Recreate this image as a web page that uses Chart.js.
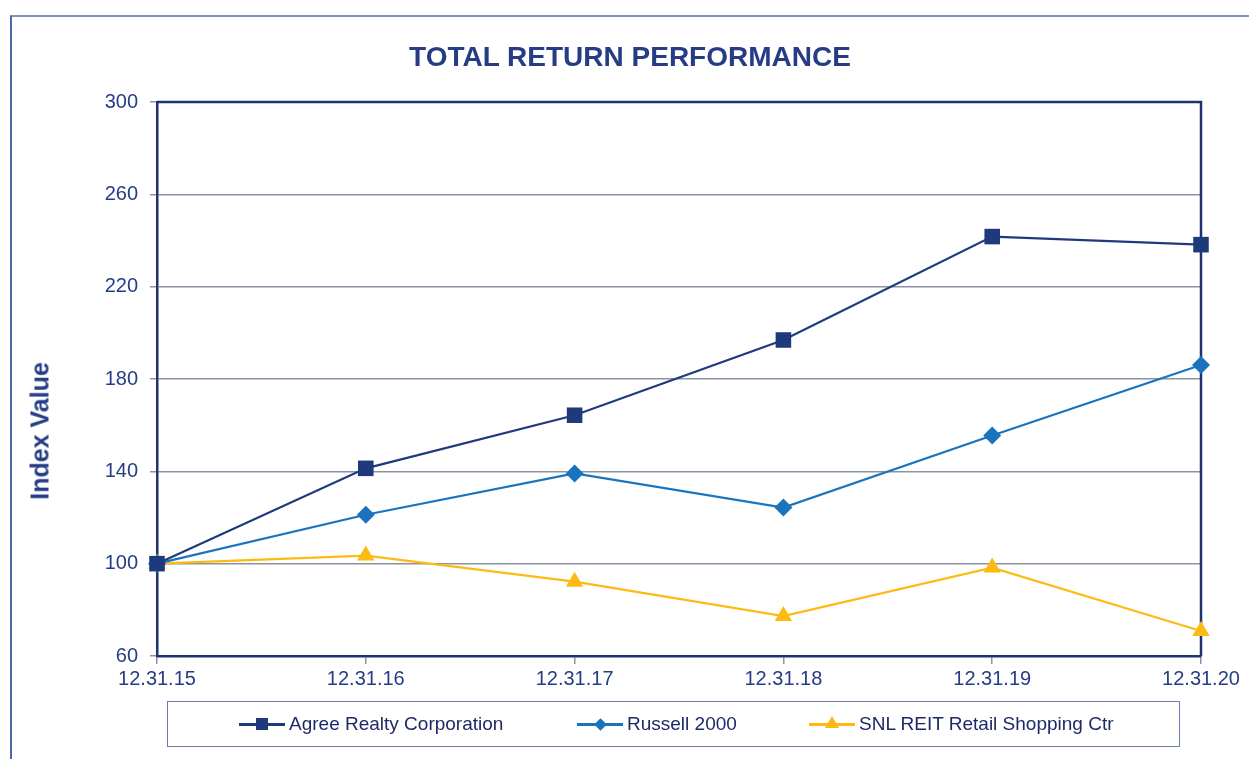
<!DOCTYPE html>
<html>
<head>
<meta charset="utf-8">
<script src="https://cdn.jsdelivr.net/npm/chart.js@4.4.1/dist/chart.umd.min.js"></script>
<style>
  body { margin: 0; background: #fff; font-family: "Liberation Sans", Arial, sans-serif; }
  #wrap { position: relative; width: 1249px; height: 759px; overflow: hidden; }
  #frame { position: absolute; left: 10px; top: 15px; width: 1400px; height: 900px;
           border-left: 2px solid #4d66a6; border-top: 2px solid #7f92c2; }
  #title { position: absolute; left: 0; top: 41px; width: 1260px; text-align: center;
           font-weight: bold; font-size: 28px; color: #263d86; }
  #ytitle { position: absolute; left: 40px; top: 431px; transform: translate(-50%, -50%) rotate(-90deg);
            font-weight: bold; font-size: 25px; color: #263d86; white-space: nowrap; }
  #legend { position: absolute; left: 167px; top: 701px; width: 1011px; height: 44px;
            border: 1px solid #6b7cb0; }
  .item { position: absolute; top: 12px; height: 20px; font-size: 19px; color: #1e2a66; }
  .item .ln { position: absolute; left: 0; top: 9px; width: 46px; height: 3px; }
  .item .mk { position: absolute; }
  .item .tx { position: absolute; left: 50px; top: -1px; white-space: nowrap; }
  canvas { position: absolute; left: 0; top: 0; }
</style>
</head>
<body>
<div id="wrap">
  <div id="frame"></div>
  <canvas id="chart" width="1249" height="759"></canvas>
  <div id="title">TOTAL RETURN PERFORMANCE</div>
  <div id="ytitle">Index Value</div>
  <div id="legend"></div>
</div>
<script>
// ===== DATA =====
const periods = ["12.31.15", "12.31.16", "12.31.17", "12.31.18", "12.31.19", "12.31.20"];
const agreeRealty = [100, 141.3, 164.3, 196.9, 241.7, 238.2];
const russell2000 = [100, 121.2, 139.1, 124.3, 155.5, 186.1];
const snlRetail = [100, 103.5, 92.2, 77.3, 98.3, 70.8];

const navy = "#1f3a7c";
const blue = "#1a74bd";
const gold = "#fdbb12";
const textColor = "#263d86";
const gridGray = "#8c90a3";

const series = [
    { label: "Agree Realty Corporation", data: agreeRealty, color: navy, style: "rect", radius: 11 },
    { label: "Russell 2000", data: russell2000, color: blue, style: "rectRot", radius: 9 },
    { label: "SNL REIT Retail Shopping Ctr", data: snlRetail, color: gold, style: "triangle", radius: 10 }
];

// ===== plot frame (top + right sides) =====
const framePlugin = {
    id: "frame",
    beforeDatasetsDraw(chart) {
        const a = chart.chartArea;
        const ctx = chart.ctx;
        ctx.save();
        ctx.strokeStyle = "#1f3272";
        ctx.lineWidth = 2.5;
        ctx.beginPath();
        ctx.moveTo(a.left, a.top);
        ctx.lineTo(a.right, a.top);
        ctx.lineTo(a.right, a.bottom);
        ctx.stroke();
        ctx.restore();
    }
};

const chart = new Chart(document.getElementById("chart"), {
    type: "line",
    data: {
        labels: periods,
        datasets: series.map(s => ({
            label: s.label,
            data: s.data,
            borderColor: s.color,
            backgroundColor: s.color,
            borderWidth: 2.2,
            pointStyle: s.style,
            pointRadius: s.radius,
            pointBorderWidth: 0,
            pointBackgroundColor: s.color,
            tension: 0,
            clip: false
        }))
    },
    options: {
        responsive: false,
        animation: false,
        layout: { padding: { top: 102, right: 48, bottom: 63, left: 0 } },
        plugins: {
            legend: { display: false },
            title: { display: false },
            tooltip: { enabled: false }
        },
        scales: {
            x: {
                offset: false,
                afterFit(scale) { scale.height = 40; },
                grid: { drawOnChartArea: false, drawTicks: true, tickLength: 8, tickColor: gridGray, lineWidth: 1.5 },
                border: { color: "#1f3272", width: 2.5 },
                ticks: { color: textColor, font: { family: "Liberation Sans", size: 20 }, padding: 3, maxRotation: 0 }
            },
            y: {
                min: 60,
                max: 300,
                afterFit(scale) { scale.width = 157; },
                grid: {
                    color: c => (c.tick && (c.tick.value === 60 || c.tick.value === 300)) ? "rgba(0,0,0,0)" : gridGray,
                    lineWidth: 1.5,
                    drawTicks: true,
                    tickLength: 7,
                    tickColor: gridGray
                },
                border: { color: "#1f3272", width: 2.5 },
                ticks: { stepSize: 40, color: textColor, font: { family: "Liberation Sans", size: 20 }, padding: 12 }
            }
        }
    },
    plugins: [framePlugin]
});

// ===== Legend =====
const legendPos = [71, 409, 641];
const legend = document.getElementById("legend");
series.forEach((s, i) => {
    const item = document.createElement("div");
    item.className = "item";
    item.style.left = legendPos[i] + "px";
    let marker;
    if (s.style === "rect") {
        marker = `<div class="mk" style="left:17px;top:4px;width:12px;height:12px;background:${s.color}"></div>`;
    } else if (s.style === "rectRot") {
        marker = `<div class="mk" style="left:19px;top:6px;width:9px;height:9px;background:${s.color};transform:rotate(45deg)"></div>`;
    } else {
        marker = `<div class="mk" style="left:16px;top:2px;width:0;height:0;border-left:7px solid transparent;border-right:7px solid transparent;border-bottom:12px solid ${s.color}"></div>`;
    }
    item.innerHTML = `<div class="ln" style="background:${s.color}"></div>${marker}<div class="tx">${s.label}</div>`;
    legend.appendChild(item);
});
</script>
</body>
</html>
